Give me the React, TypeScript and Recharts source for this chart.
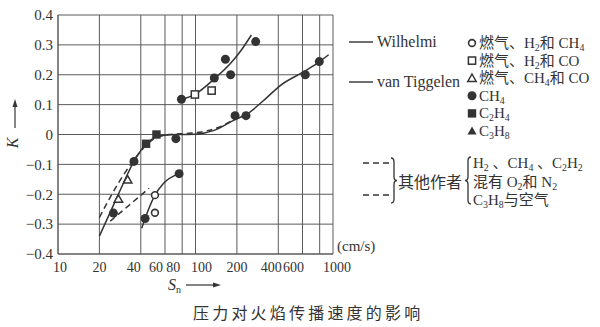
import React from "react";
import {
  ComposedChart,
  Line,
  Scatter,
  XAxis,
  YAxis,
  CartesianGrid,
} from "recharts";

// axis ticks
const xTicks = [10, 20, 40, 60, 80, 100, 200, 400, 600, 800, 1000];
const yTicks = [-0.4, -0.3, -0.2, -0.1, 0, 0.1, 0.2, 0.3, 0.4];

// solid curves (Sn cm/s, K)
const wilhelmiCurve = [
  [78, 0.116], [100, 0.136], [139, 0.189], [178, 0.236], [215, 0.282], [255, 0.333],
];
const vanTiggelenCurve = [
  [20, -0.34], [27, -0.208], [35.7, -0.09], [43.7, -0.032], [52, -0.008], [65, -0.001],
  [80, 0], [100, 0.001], [135, 0.013], [194, 0.05], [236, 0.068], [310, 0.112],
  [411, 0.163], [628, 0.213], [800, 0.244], [930, 0.267],
];
const lowCurve = [
  [40.6, -0.314], [43, -0.281], [50.7, -0.203], [58.4, -0.164], [76, -0.131],
];

// dashed curves (other authors)
const dashedUpper = [
  [20, -0.278], [25, -0.195], [31, -0.125], [37, -0.075], [44, -0.035], [52, -0.01],
  [65, 0], [90, 0.004], [120, 0.012], [155, 0.028], [190, 0.05],
];
const dashedLower = [
  [24, -0.29], [46, -0.18],
];

// measured points
const openCircles = [[50.7, -0.203], [50.7, -0.262]];
const openSquares = [[99, 0.134], [131, 0.147]];
const openTriangles = [[27.5, -0.216], [32.1, -0.152]];
const filledCircles = [
  [25.3, -0.263], [35.7, -0.09], [43, -0.281], [72, -0.014], [76, -0.131], [79, 0.118],
  [137, 0.189], [165, 0.252], [180, 0.2], [274, 0.311], [194, 0.063], [233, 0.063],
  [629, 0.2], [795, 0.244],
];
const filledSquares = [[43.7, -0.031], [52, 0.0]];

const legendRows = [
  { kind: "oc", label: "燃气、H2和 CH4" },
  { kind: "os", label: "燃气、H2和 CO" },
  { kind: "ot", label: "燃气、CH4和 CO" },
  { kind: "fc", label: "CH4" },
  { kind: "fs", label: "C2H4" },
  { kind: "ft", label: "C3H8" },
];
const otherLines = ["H2 、CH4 、C2H2", "混有 O2和 N2", "C3H8与空气"];

const INK = "#333";
const GRID = "#5a5a5a";
const FONT = "'Liberation Serif', 'Noto Sans CJK SC', serif";

// plot box (chart margins + axis sizes below)
const W = 600;
const H = 327;
const M = { top: 15, right: 267, bottom: 43, left: 0 };
const Y_W = 58;
const X_H = 30;
const plotL = M.left + Y_W;
const plotW = W - plotL - M.right;
const plotT = M.top;
const plotB = H - M.bottom - X_H;

const toPts = (a: number[][]) => a.map(([x, y]) => ({ x, y }));

const xShift: Record<number, number> = {
  10: 2, 40: -7, 60: -9, 80: -9, 100: 6, 400: -7, 600: -9, 1000: 4,
};

function Marker({ kind, cx, cy }: { kind: string; cx: number; cy: number }) {
  switch (kind) {
    case "oc":
      return <circle cx={cx} cy={cy} r={3.4} fill="#fff" stroke={INK} strokeWidth={1.6} />;
    case "os":
      return <rect x={cx - 3.6} y={cy - 3.6} width={7.2} height={7.2} fill="#fff" stroke={INK} strokeWidth={1.5} />;
    case "ot":
      return <polygon points={`${cx},${cy - 4.2} ${cx + 4.2},${cy + 3.2} ${cx - 4.2},${cy + 3.2}`} fill="#fff" stroke={INK} strokeWidth={1.5} />;
    case "fc":
      return <circle cx={cx} cy={cy} r={4.5} fill={INK} />;
    case "fs":
      return <rect x={cx - 4.2} y={cy - 4.2} width={8.4} height={8.4} fill={INK} />;
    default:
      return <polygon points={`${cx},${cy - 4.5} ${cx + 4.5},${cy + 3.5} ${cx - 4.5},${cy + 3.5}`} fill={INK} />;
  }
}

const shapeOf = (kind: string) => (p: any) => <Marker kind={kind} cx={p.cx} cy={p.cy} />;

function Chem({ x, y, text, size = 15 }: { x: number; y: number; text: string; size?: number }) {
  const parts = text.split(/(\d+)/);
  return (
    <text x={x} y={y} fontSize={size} fill={INK} fontFamily={FONT}>
      {parts.map((p, i) =>
        i % 2 === 1 ? (
          <tspan key={i} dy={3} fontSize={size * 0.66}>{p}</tspan>
        ) : (
          <tspan key={i} dy={i > 0 ? -3 : 0}>{p}</tspan>
        )
      )}
    </text>
  );
}

const XTick = ({ x, y, payload }: any) => {
  const v = payload.value;
  if (v === 800) return null;
  return (
    <text x={x + (xShift[v] || 0)} y={y} dy="0.71em" textAnchor="middle" fontSize={14} fill={INK} fontFamily={FONT}>
      {v}
    </text>
  );
};

const fmtY = (v: number) => (v === 0 ? "0" : v < 0 ? "\u2212" + Math.abs(v).toFixed(1) : v.toFixed(1));

function rightBrace(x: number, y0: number, y1: number, w: number) {
  const m = (y0 + y1) / 2;
  return `M${x},${y0} Q${x + w},${y0} ${x + w},${y0 + 4} L${x + w},${m - 4} Q${x + w},${m} ${x + 2 * w},${m} Q${x + w},${m} ${x + w},${m + 4} L${x + w},${y1 - 4} Q${x + w},${y1} ${x},${y1}`;
}

// x position of a grid value on the log axis (10..1000 spans the plot box)
const gx = (t: number) => plotL + ((Math.log10(t) - 1) / 2) * plotW;

export default function App() {
  return (
    <div style={{ position: "absolute", left: 0, top: 0, width: W, height: H, background: "#fff" }}>
      {/* vertical grid, behind the chart */}
      <svg width={W} height={H} style={{ position: "absolute", left: 0, top: 0 }}>
        {xTicks.map((t) => (
          <line key={t} x1={gx(t)} x2={gx(t)} y1={plotT} y2={plotB} stroke={GRID} strokeWidth={1} />
        ))}
      </svg>

      <ComposedChart width={W} height={H} margin={M}>
        <CartesianGrid stroke={GRID} vertical={false} />
        <XAxis
          dataKey="x"
          type="number"
          scale="log"
          domain={[10, 1000]}
          ticks={xTicks}
          interval={0}
          tickLine={false}
          axisLine={{ stroke: GRID }}
          height={X_H}
          tick={<XTick />}
        />
        <YAxis
          type="number"
          domain={[-0.4, 0.4]}
          ticks={yTicks}
          interval={0}
          width={Y_W}
          tickLine={false}
          tickSize={5}
          tickMargin={0}
          axisLine={{ stroke: GRID }}
          tick={{ fill: INK, fontSize: 15, fontFamily: FONT }}
          tickFormatter={fmtY}
        />
        <Line data={toPts(wilhelmiCurve)} dataKey="y" type="monotone" stroke={INK} strokeWidth={1.5} dot={false} isAnimationActive={false} />
        <Line data={toPts(vanTiggelenCurve)} dataKey="y" type="monotone" stroke={INK} strokeWidth={1.5} dot={false} isAnimationActive={false} />
        <Line data={toPts(lowCurve)} dataKey="y" type="monotone" stroke={INK} strokeWidth={1.5} dot={false} isAnimationActive={false} />
        <Line data={toPts(dashedUpper)} dataKey="y" type="monotone" stroke={INK} strokeWidth={1.5} strokeDasharray="6 4" dot={false} isAnimationActive={false} />
        <Line data={toPts(dashedLower)} dataKey="y" type="linear" stroke={INK} strokeWidth={1.5} strokeDasharray="6 4" dot={false} isAnimationActive={false} />
        <Scatter data={toPts(openCircles)} dataKey="y" shape={shapeOf("oc")} isAnimationActive={false} />
        <Scatter data={toPts(openSquares)} dataKey="y" shape={shapeOf("os")} isAnimationActive={false} />
        <Scatter data={toPts(openTriangles)} dataKey="y" shape={shapeOf("ot")} isAnimationActive={false} />
        <Scatter data={toPts(filledCircles)} dataKey="y" shape={shapeOf("fc")} isAnimationActive={false} />
        <Scatter data={toPts(filledSquares)} dataKey="y" shape={shapeOf("fs")} isAnimationActive={false} />
      </ComposedChart>

      <svg width={W} height={H} style={{ position: "absolute", left: 0, top: 0, pointerEvents: "none" }}>
        {/* axis titles */}
        <text x={0} y={0} transform="translate(18,143) rotate(-90)" textAnchor="middle" fontSize={16} fontStyle="italic" fill={INK} fontFamily={FONT}>K</text>
        <line x1={15} y1={128} x2={15} y2={104} stroke={INK} strokeWidth={1.2} />
        <polygon points="15,99 12.5,107 17.5,107" fill={INK} />

        <text x={168} y={290} fontSize={16} fontStyle="italic" fill={INK} fontFamily={FONT}>
          S<tspan dy={3} fontSize={10} fontStyle="normal">n</tspan>
        </text>
        <line x1={186} y1={285} x2={214} y2={285} stroke={INK} strokeWidth={1.2} />
        <polygon points="221,285 213,282.5 213,287.5" fill={INK} />

        <text x={337} y={251} fontSize={15} fill={INK} fontFamily={FONT}>(cm/s)</text>

        {/* line legend */}
        <line x1={349} y1={42} x2={373} y2={42} stroke={INK} strokeWidth={1.4} />
        <text x={377} y={47} fontSize={16} fill={INK} fontFamily={FONT}>Wilhelmi</text>
        <line x1={349} y1={82} x2={373} y2={82} stroke={INK} strokeWidth={1.4} />
        <text x={377} y={87} fontSize={16} fill={INK} fontFamily={FONT}>van Tiggelen</text>

        {/* marker legend */}
        {legendRows.map((r, i) => {
          const cy = 43 + i * 17.6;
          return (
            <g key={r.kind}>
              <Marker kind={r.kind} cx={472} cy={cy} />
              <Chem x={479} y={cy + 5} text={r.label} />
            </g>
          );
        })}

        {/* other authors */}
        <line x1={363} y1={163} x2={392} y2={163} stroke={INK} strokeWidth={1.3} strokeDasharray="6 4" />
        <line x1={363} y1={195} x2={392} y2={195} stroke={INK} strokeWidth={1.3} strokeDasharray="6 4" />
        <path d={rightBrace(391, 158, 203, 3)} fill="none" stroke={INK} strokeWidth={1.3} />
        <text x={398} y={188} fontSize={16} fill={INK} fontFamily={FONT}>其他作者</text>
        <path d={rightBrace(471, 157, 204, -3)} fill="none" stroke={INK} strokeWidth={1.3} />
        {otherLines.map((t, i) => (
          <Chem key={t} x={473} y={168 + i * 18.5} text={t} />
        ))}

        {/* caption */}
        <text x={193} y={319} fontSize={16} letterSpacing={3.2} fill={INK} fontFamily={FONT}>压力对火焰传播速度的影响</text>
      </svg>
    </div>
  );
}
